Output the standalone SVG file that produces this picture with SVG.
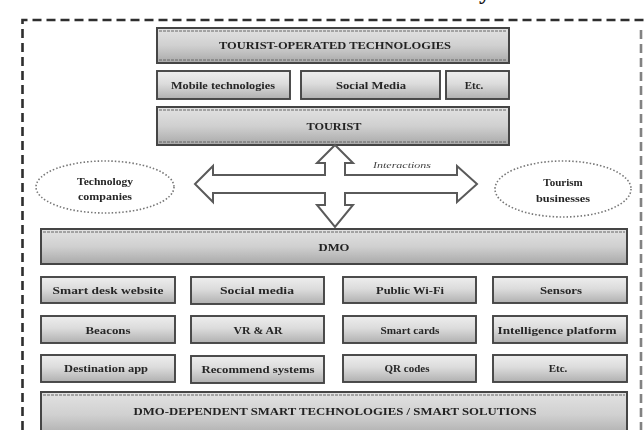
<svg xmlns="http://www.w3.org/2000/svg" width="644" height="430" viewBox="0 0 644 430">
  <defs>
    <linearGradient id="boxFill" x1="0" y1="0" x2="0" y2="1">
      <stop offset="0" stop-color="#eeeeee"/>
      <stop offset="0.45" stop-color="#dcdcdc"/>
      <stop offset="1" stop-color="#b0b0b0"/>
    </linearGradient>
    <linearGradient id="barFill" x1="0" y1="0" x2="0" y2="1">
      <stop offset="0" stop-color="#e2e2e2"/>
      <stop offset="0.5" stop-color="#d0d0d0"/>
      <stop offset="1" stop-color="#a9a9a9"/>
    </linearGradient>
    <filter id="soft" x="-5%" y="-20%" width="110%" height="140%">
      <feGaussianBlur stdDeviation="0.55"/>
    </filter>
  </defs>
  <style>
    .box { fill: url(#boxFill); stroke: #444; stroke-width: 1.9; }
    .bar { fill: url(#barFill); stroke: #444; stroke-width: 2; }
    .edge { fill: none; stroke: #666; stroke-width: 1; stroke-dasharray: 3 1; }
    .title { font-family: "Liberation Serif", "Times New Roman", serif; font-weight: bold; font-size: 10.5px; fill: #222; text-anchor: middle; }
    .item { font-family: "Liberation Serif", "Times New Roman", serif; font-weight: bold; font-size: 11px; fill: #262626; text-anchor: middle; }
    .oval { fill: none; stroke: #777; stroke-width: 1.6; stroke-dasharray: 1.5 2; }
    .frame { fill: none; stroke: #2e2e2e; stroke-width: 2.6; stroke-dasharray: 9 5; }
  </style>

  <rect width="644" height="430" fill="#ffffff"/>

  <!-- tail of a heading that runs above the frame -->
  <text x="479" y="-1" font-family="Liberation Serif, serif" font-weight="bold" font-size="24" fill="#111">y</text>

  <!-- dashed outer frame -->
  <g id="frame">
    <path class="frame" d="M22.5 430 V20 H644"/>
    <path class="frame" d="M641 30 V430" stroke-opacity="0.6"/>
  </g>

  <g filter="url(#soft)">
    <!-- tourist side -->
    <g id="tourist-operated">
      <rect class="bar" x="157" y="28" width="352" height="35"/>
      <line class="edge" x1="159" y1="31" x2="507" y2="31"/>
      <line class="edge" x1="159" y1="60" x2="507" y2="60"/>
      <text class="title" x="335" y="49" textLength="232" lengthAdjust="spacingAndGlyphs">TOURIST-OPERATED TECHNOLOGIES</text>
    </g>
    <g id="mobile">
      <rect class="box" x="157" y="71" width="133" height="28"/>
      <text class="item" x="223" y="89" textLength="104" lengthAdjust="spacingAndGlyphs">Mobile technologies</text>
    </g>
    <g id="social-media-t">
      <rect class="box" x="301" y="71" width="139" height="28"/>
      <text class="item" x="371" y="89" textLength="70" lengthAdjust="spacingAndGlyphs">Social Media</text>
    </g>
    <g id="etc-t">
      <rect class="box" x="446" y="71" width="63" height="28"/>
      <text class="item" x="474" y="89">Etc.</text>
    </g>
    <g id="tourist">
      <rect class="bar" x="157" y="107" width="352" height="38"/>
      <line class="edge" x1="159" y1="110" x2="507" y2="110"/>
      <line class="edge" x1="159" y1="142" x2="507" y2="142"/>
      <text class="title" x="334" y="130" textLength="55" lengthAdjust="spacingAndGlyphs">TOURIST</text>
    </g>

    <!-- side actors -->
    <g id="technology-companies">
      <ellipse class="oval" cx="105" cy="187" rx="69" ry="26"/>
      <text class="item" x="105" y="185" font-size="10" textLength="56" lengthAdjust="spacingAndGlyphs">Technology</text>
      <text class="item" x="105" y="200" font-size="10" textLength="54" lengthAdjust="spacingAndGlyphs">companies</text>
    </g>
    <g id="tourism-businesses">
      <ellipse class="oval" cx="563" cy="189" rx="68" ry="28"/>
      <text class="item" x="563" y="186" font-size="10">Tourism</text>
      <text class="item" x="563" y="202" font-size="10" textLength="54" lengthAdjust="spacingAndGlyphs">businesses</text>
    </g>

    <!-- four-way interaction arrow -->
    <g id="connectors">
      <polygon points="335,145 353,163 345,163 345,175 457,175 457,166 477,184 457,202 457,193 345,193 345,205 353,205 335,227 317,205 325,205 325,193 213,193 213,202 195,184 213,166 213,175 325,175 325,163 317,163" fill="#ffffff" stroke="#5a5a5a" stroke-width="2" stroke-linejoin="miter"/>
      <text x="402" y="168" font-family="Liberation Serif, serif" font-style="italic" font-size="9" fill="#444" text-anchor="middle" textLength="58" lengthAdjust="spacingAndGlyphs">Interactions</text>
    </g>

    <!-- DMO side -->
    <g id="dmo">
      <rect class="bar" x="41" y="229" width="586" height="35"/>
      <line class="edge" x1="43" y1="232" x2="625" y2="232"/>
      <text class="title" x="334" y="251" textLength="31" lengthAdjust="spacingAndGlyphs">DMO</text>
    </g>

    <g id="smart-desk">
      <rect class="box" x="41" y="277" width="134" height="26"/>
      <text class="item" x="108" y="294" textLength="111" lengthAdjust="spacingAndGlyphs">Smart desk website</text>
    </g>
    <g id="social-media">
      <rect class="box" x="191" y="277" width="133" height="27"/>
      <text class="item" x="257" y="294" textLength="74" lengthAdjust="spacingAndGlyphs">Social media</text>
    </g>
    <g id="public-wifi">
      <rect class="box" x="343" y="277" width="133" height="26"/>
      <text class="item" x="410" y="294" textLength="68" lengthAdjust="spacingAndGlyphs">Public Wi-Fi</text>
    </g>
    <g id="sensors">
      <rect class="box" x="493" y="277" width="134" height="26"/>
      <text class="item" x="561" y="294" textLength="42" lengthAdjust="spacingAndGlyphs">Sensors</text>
    </g>

    <g id="beacons">
      <rect class="box" x="41" y="316" width="134" height="27"/>
      <text class="item" x="108" y="334" textLength="45" lengthAdjust="spacingAndGlyphs">Beacons</text>
    </g>
    <g id="vr-ar">
      <rect class="box" x="191" y="316" width="133" height="27"/>
      <text class="item" x="258" y="334" textLength="49" lengthAdjust="spacingAndGlyphs">VR &amp; AR</text>
    </g>
    <g id="smart-cards">
      <rect class="box" x="343" y="316" width="133" height="27"/>
      <text class="item" x="410" y="334" textLength="59" lengthAdjust="spacingAndGlyphs">Smart cards</text>
    </g>
    <g id="intelligence-platform">
      <rect class="box" x="493" y="316" width="134" height="27"/>
      <text class="item" x="557" y="334" textLength="119" lengthAdjust="spacingAndGlyphs">Intelligence platform</text>
    </g>

    <g id="destination-app">
      <rect class="box" x="41" y="355" width="134" height="27"/>
      <text class="item" x="106" y="372" textLength="84" lengthAdjust="spacingAndGlyphs">Destination app</text>
    </g>
    <g id="recommend-systems">
      <rect class="box" x="191" y="356" width="133" height="27"/>
      <text class="item" x="258" y="373" textLength="113" lengthAdjust="spacingAndGlyphs">Recommend systems</text>
    </g>
    <g id="qr-codes">
      <rect class="box" x="343" y="355" width="133" height="27"/>
      <text class="item" x="407" y="372" textLength="45" lengthAdjust="spacingAndGlyphs">QR codes</text>
    </g>
    <g id="etc-d">
      <rect class="box" x="493" y="355" width="134" height="27"/>
      <text class="item" x="558" y="372">Etc.</text>
    </g>

    <g id="dmo-dependent">
      <rect class="bar" x="41" y="392" width="586" height="46"/>
      <line class="edge" x1="43" y1="395" x2="625" y2="395"/>
      <text class="title" x="335" y="415" textLength="403" lengthAdjust="spacingAndGlyphs">DMO-DEPENDENT SMART TECHNOLOGIES / SMART SOLUTIONS</text>
    </g>
  </g>
</svg>
